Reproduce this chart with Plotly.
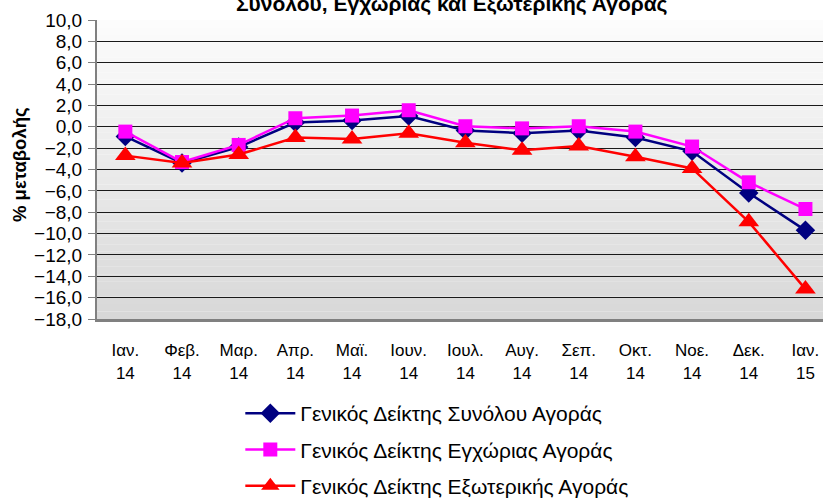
import plotly.graph_objects as go

months = ["Ιαν.", "Φεβ.", "Μαρ.", "Απρ.", "Μαϊ.", "Ιουν.", "Ιουλ.", "Αυγ.", "Σεπ.", "Οκτ.", "Νοε.", "Δεκ.", "Ιαν."]
years = ["14"] * 12 + ["15"]
categories = [f"{m}<br>{y}" for m, y in zip(months, years)]

total = [-0.9, -3.4, -1.9, 0.4, 0.6, 1.0, -0.35, -0.6, -0.35, -1.0, -2.3, -6.2, -9.7]
domestic = [-0.45, -3.3, -1.7, 0.8, 1.05, 1.55, 0.05, -0.15, 0.05, -0.45, -1.85, -5.2, -7.7]
external = [-2.7, -3.4, -2.6, -1.0, -1.15, -0.6, -1.5, -2.2, -1.8, -2.8, -3.9, -8.9, -15.2]

series_names = ["Γενικός Δείκτης Συνόλου Αγοράς",
                "Γενικός Δείκτης Εγχώριας Αγοράς",
                "Γενικός Δείκτης Εξωτερικής Αγοράς"]

yticks = [10, 8, 6, 4, 2, 0, -2, -4, -6, -8, -10, -12, -14, -16, -18]

FONT = "Arial, Liberation Sans, sans-serif"

fig = go.Figure()
styles = [
    (total, "#000080", "diamond", 15),
    (domestic, "#FF00FF", "square", 14),
    (external, "#FF0000", "triangle-up", 18),
]
for i, (vals, col, sym, sz) in enumerate(styles):
    fig.add_trace(go.Scatter(
        x=categories, y=vals, mode="lines+markers", name=series_names[i],
        line=dict(color=col, width=2.5),
        marker=dict(color=col, symbol=sym, size=sz, line=dict(width=0)),
        legendgroup=f"g{i}",
        cliponaxis=False,
    ))

# gradient background bands
shapes = []
n = 40
for k in range(n):
    t = k / (n - 1)
    c = int(round(252 - (252 - 216) * t))
    shapes.append(dict(type="rect", xref="x domain", yref="y domain",
                       x0=0, x1=1, y0=1 - (k + 1) / n, y1=1 - k / n,
                       fillcolor=f"rgb({c},{c},{c})", line=dict(width=0), layer="below"))

fig.update_layout(
    width=823, height=500,
    margin=dict(l=97, r=0, t=20, b=181, autoexpand=False),
    paper_bgcolor="white",
    plot_bgcolor="rgba(0,0,0,0)",
    separators=",.",
    font=dict(family=FONT, size=17, color="black"),
    shapes=shapes,
    showlegend=True,
    legend=dict(xref="container", yref="container", x=0.292, y=0.214,
                xanchor="left", yanchor="top",
                orientation="v", font=dict(size=21, family=FONT),
                tracegroupgap=6, itemwidth=50, bgcolor="rgba(0,0,0,0)"),
    annotations=[dict(text="<b>Συνόλου, Εγχώριας και Εξωτερικής Αγοράς</b>",
                      xref="paper", yref="paper", x=0.489, y=(319 - 4) / 299,
                      xanchor="center", yanchor="middle", showarrow=False,
                      font=dict(size=21, family=FONT)),
                 dict(text="<b>% μεταβολής</b>", xref="paper", yref="paper",
                      x=-78 / 726, y=(319 - 165) / 299, textangle=-90,
                      xanchor="center", yanchor="middle",
                      showarrow=False, font=dict(size=18.5, family=FONT))],
)

fig.update_xaxes(
    type="category", range=[-0.5, 12.31], automargin=False,
    showgrid=False, showline=True, linecolor="#808080", linewidth=3,
    ticks="", tickfont=dict(size=17, family=FONT), ticklabelstandoff=14,
)
fig.update_yaxes(
    range=[-18, 10], tickvals=yticks, tickformat=".1f", automargin=False,
    showgrid=True, gridcolor="#1a1a1a", gridwidth=1,
    zeroline=False, showline=True, linecolor="#808080", linewidth=2,
    ticks="outside", ticklen=7, tickcolor="#808080", tickwidth=1,
    tickfont=dict(size=19, family=FONT), ticklabelstandoff=2,
)

fig.write_html("out.html", config={"displayModeBar": False},
               post_script="document.body.style.margin='0';")
